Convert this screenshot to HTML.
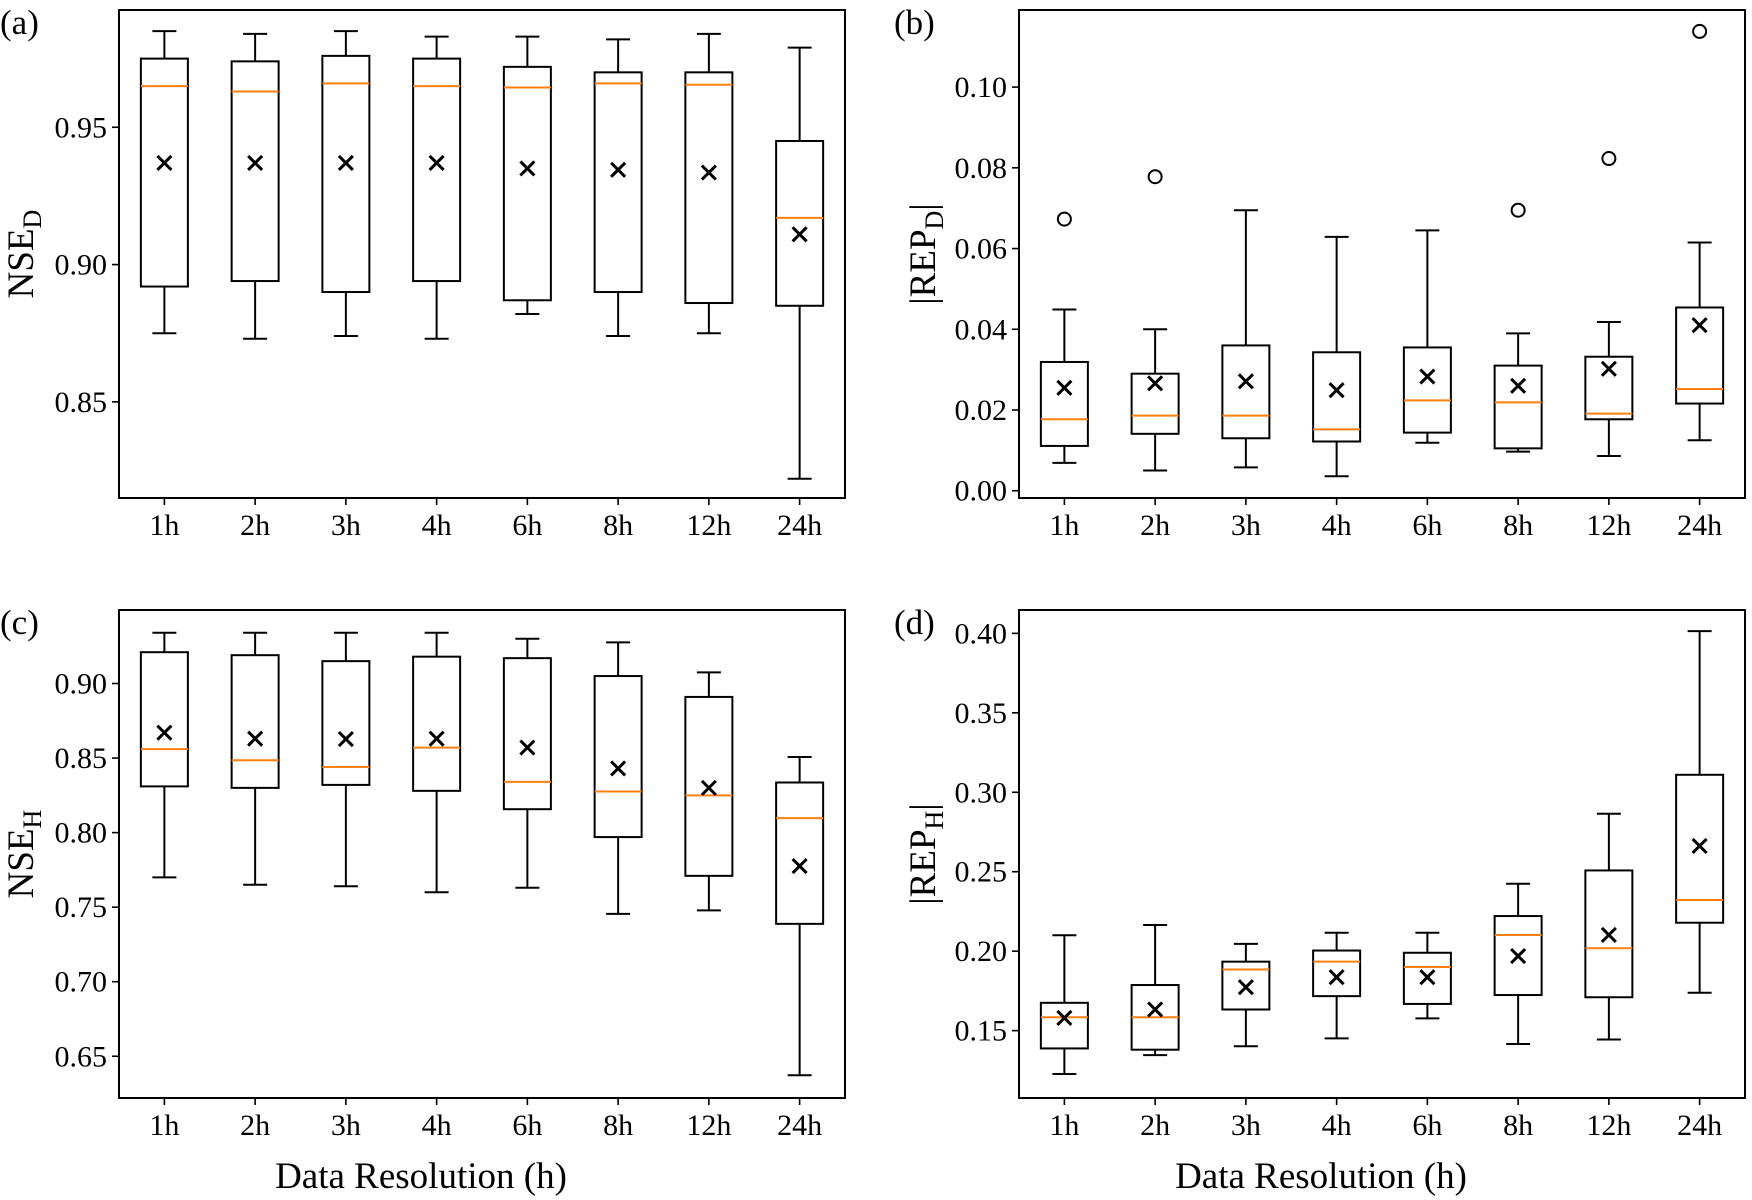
<!DOCTYPE html>
<html><head><meta charset="utf-8">
<style>
html,body{margin:0;padding:0;background:#fff;}
svg{display:block;font-family:"Liberation Serif","DejaVu Serif",serif;}
</style></head>
<body>
<svg id="fig" width="1752" height="1200" viewBox="0 0 1752 1200" xmlns="http://www.w3.org/2000/svg">
<rect width="1752" height="1200" fill="#fff"/>
</svg>
<script>
const categories = ["1h","2h","3h","4h","6h","8h","12h","24h"];
// panel (a) NSE_D
const aHi   = [0.985,0.984,0.985,0.983,0.983,0.982,0.984,0.979];
const aQ3   = [0.975,0.974,0.976,0.975,0.972,0.970,0.970,0.945];
const aMed  = [0.965,0.963,0.966,0.965,0.9645,0.966,0.9655,0.917];
const aMean = [0.937,0.937,0.937,0.937,0.935,0.9345,0.9335,0.911];
const aQ1   = [0.892,0.894,0.890,0.894,0.887,0.890,0.886,0.885];
const aLo   = [0.875,0.873,0.874,0.873,0.882,0.874,0.875,0.822];
const aOut  = [[],[],[],[],[],[],[],[]];
const aTicks = [0.85,0.90,0.95];
const aTickLabels = ["0.85","0.90","0.95"];
// panel (b) |REP_D|
const bHi   = [0.0449,0.040,0.0695,0.0629,0.0645,0.039,0.0418,0.0615];
const bQ3   = [0.0319,0.029,0.036,0.0343,0.0355,0.031,0.0332,0.0454];
const bMed  = [0.0177,0.0186,0.0186,0.0152,0.0224,0.0219,0.0191,0.0252];
const bMean = [0.0255,0.0266,0.0271,0.0249,0.0283,0.026,0.0302,0.041];
const bQ1   = [0.0111,0.0141,0.013,0.0122,0.0144,0.0105,0.0177,0.0216];
const bLo   = [0.0069,0.005,0.0058,0.0036,0.0119,0.0097,0.0086,0.0125];
const bOut  = [[0.0673],[0.0778],[],[],[],[0.0695],[0.0823],[0.1138]];
const bTicks = [0,0.02,0.04,0.06,0.08,0.10];
const bTickLabels = ["0.00","0.02","0.04","0.06","0.08","0.10"];
// panel (c) NSE_H
const cHi   = [0.934,0.934,0.934,0.934,0.930,0.9276,0.9075,0.8507];
const cQ3   = [0.921,0.919,0.915,0.918,0.917,0.905,0.891,0.8336];
const cMed  = [0.856,0.8485,0.844,0.857,0.834,0.8276,0.825,0.8097];
const cMean = [0.867,0.863,0.8627,0.863,0.857,0.843,0.830,0.7776];
const cQ1   = [0.831,0.830,0.832,0.828,0.8157,0.797,0.771,0.7388];
const cLo   = [0.770,0.765,0.764,0.760,0.763,0.7455,0.7478,0.6373];
const cOut  = [[],[],[],[],[],[],[],[]];
const cTicks = [0.65,0.70,0.75,0.80,0.85,0.90];
const cTickLabels = ["0.65","0.70","0.75","0.80","0.85","0.90"];
// panel (d) |REP_H|
const dHi   = [0.210,0.2165,0.2046,0.2116,0.2116,0.2424,0.2865,0.4014];
const dQ3   = [0.1675,0.1787,0.1934,0.2004,0.199,0.2221,0.2508,0.311];
const dMed  = [0.1584,0.1584,0.1885,0.1934,0.190,0.2102,0.2018,0.2322];
const dMean = [0.158,0.1633,0.1773,0.1836,0.1836,0.1969,0.2102,0.2662];
const dQ1   = [0.1388,0.138,0.1633,0.1717,0.1668,0.1724,0.171,0.2179];
const dLo   = [0.1227,0.1346,0.1402,0.1451,0.1577,0.1416,0.1444,0.1738];
const dOut  = [[],[],[],[],[],[],[],[]];
const dTicks = [0.15,0.20,0.25,0.30,0.35,0.40];
const dTickLabels = ["0.15","0.20","0.25","0.30","0.35","0.40"];

const NS="http://www.w3.org/2000/svg";
const svg=document.getElementById('fig');
function mk(tag,attrs,parent){const e=document.createElementNS(NS,tag);for(const k in attrs)e.setAttribute(k,attrs[k]);(parent||svg).appendChild(e);return e;}

function panel(p){
  const g=mk('g',{});
  
  
  const L=p.x0,R=p.x0+726,T=p.y0,B=p.y0+488;
  const step=(R-L)/categories.length;
  const xs=i=>L+step*(i+0.5);
  const ys=v=>B-(v-p.ymin)/(p.ymax-p.ymin)*(B-T);
  p.ticks.forEach((t,i)=>{
    const y=ys(t);
    const tk=mk('line',{x1:L-7,x2:L,y1:y,y2:y,stroke:'#000','stroke-width':1.6},g);
    
    
    const tx=mk('text',{x:L-12,y:y+10,'font-size':30,'text-anchor':'end',fill:'#000'},g);
    tx.textContent=p.tickLabels[i];
    
    
  });
  categories.forEach((c,i)=>{
    const x=xs(i);
    const tk=mk('line',{x1:x,x2:x,y1:B,y2:B+7,stroke:'#000','stroke-width':1.6},g);
    
    
    const tx=mk('text',{x:x,y:B+37,'font-size':30,'text-anchor':'middle',fill:'#000'},g);
    tx.textContent=c;
    
    
    const bx=mk('g',{},g);
    
    
    const hw=23.5,cw=12;
    mk('line',{x1:x,x2:x,y1:ys(p.hi[i]),y2:ys(p.q3[i]),stroke:'#000','stroke-width':2},bx);
    mk('line',{x1:x,x2:x,y1:ys(p.q1[i]),y2:ys(p.lo[i]),stroke:'#000','stroke-width':2},bx);
    mk('line',{x1:x-cw,x2:x+cw,y1:ys(p.hi[i]),y2:ys(p.hi[i]),stroke:'#000','stroke-width':2},bx);
    mk('line',{x1:x-cw,x2:x+cw,y1:ys(p.lo[i]),y2:ys(p.lo[i]),stroke:'#000','stroke-width':2},bx);
    mk('rect',{x:x-hw,y:ys(p.q3[i]),width:2*hw,height:ys(p.q1[i])-ys(p.q3[i]),fill:'none',stroke:'#000','stroke-width':2},bx);
    const md=mk('line',{x1:x-hw,x2:x+hw,y1:ys(p.med[i]),y2:ys(p.med[i]),stroke:'#ff7f0e','stroke-width':2},bx);
    
    
    const my=ys(p.mean[i]),s=7;
    const mm=mk('path',{d:`M${x-s},${my-s}L${x+s},${my+s}M${x-s},${my+s}L${x+s},${my-s}`,stroke:'#000','stroke-width':3,fill:'none'},bx);
    
    
    p.out[i].forEach(o=>{
      const oc=mk('circle',{cx:x,cy:ys(o),r:6.5,fill:'none',stroke:'#000','stroke-width':2},bx);
      
      
    });
  });
  const fr=mk('rect',{x:L,y:T,width:R-L,height:B-T,fill:'none',stroke:'#000','stroke-width':2},g);
  
  
  const yl=mk('text',{x:0,y:0,'font-size':37,'text-anchor':'middle',fill:'#000',transform:`translate(${p.ylx},${(T+B)/2}) rotate(-90)`},g);
  
  
  yl.innerHTML=p.ylabel;
  const pl=mk('text',{x:p.lx,y:T+24,'font-size':35,fill:'#000'},g);
  pl.textContent=p.label;
  
  
}

panel({id:'a',x0:119,y0:10,ymin:0.815,ymax:0.9927,ticks:aTicks,tickLabels:aTickLabels,hi:aHi,q3:aQ3,med:aMed,mean:aMean,q1:aQ1,lo:aLo,out:aOut,ylx:33,lx:0,label:'(a)',ylabel:'NSE<tspan font-size="26" dy="8">D</tspan>'});
panel({id:'b',x0:1019,y0:10,ymin:-0.0018,ymax:0.1191,ticks:bTicks,tickLabels:bTickLabels,hi:bHi,q3:bQ3,med:bMed,mean:bMean,q1:bQ1,lo:bLo,out:bOut,ylx:935,lx:894,label:'(b)',ylabel:'|REP<tspan font-size="26" dy="8">D</tspan><tspan dy="-8">|</tspan>'});
panel({id:'c',x0:119,y0:610,ymin:0.622,ymax:0.9493,ticks:cTicks,tickLabels:cTickLabels,hi:cHi,q3:cQ3,med:cMed,mean:cMean,q1:cQ1,lo:cLo,out:cOut,ylx:33,lx:0,label:'(c)',ylabel:'NSE<tspan font-size="26" dy="8">H</tspan>'});
panel({id:'d',x0:1019,y0:610,ymin:0.1076,ymax:0.4147,ticks:dTicks,tickLabels:dTickLabels,hi:dHi,q3:dQ3,med:dMed,mean:dMean,q1:dQ1,lo:dLo,out:dOut,ylx:935,lx:894,label:'(d)',ylabel:'|REP<tspan font-size="26" dy="8">H</tspan><tspan dy="-8">|</tspan>'});

[[421,'x-axis-title-left'],[1321,'x-axis-title-right']].forEach(([x,n])=>{
  const t=mk('text',{x:x,y:1188,'font-size':37,'text-anchor':'middle',fill:'#000'});
  t.textContent='Data Resolution (h)';
  
  
});
</script>
</body></html>
